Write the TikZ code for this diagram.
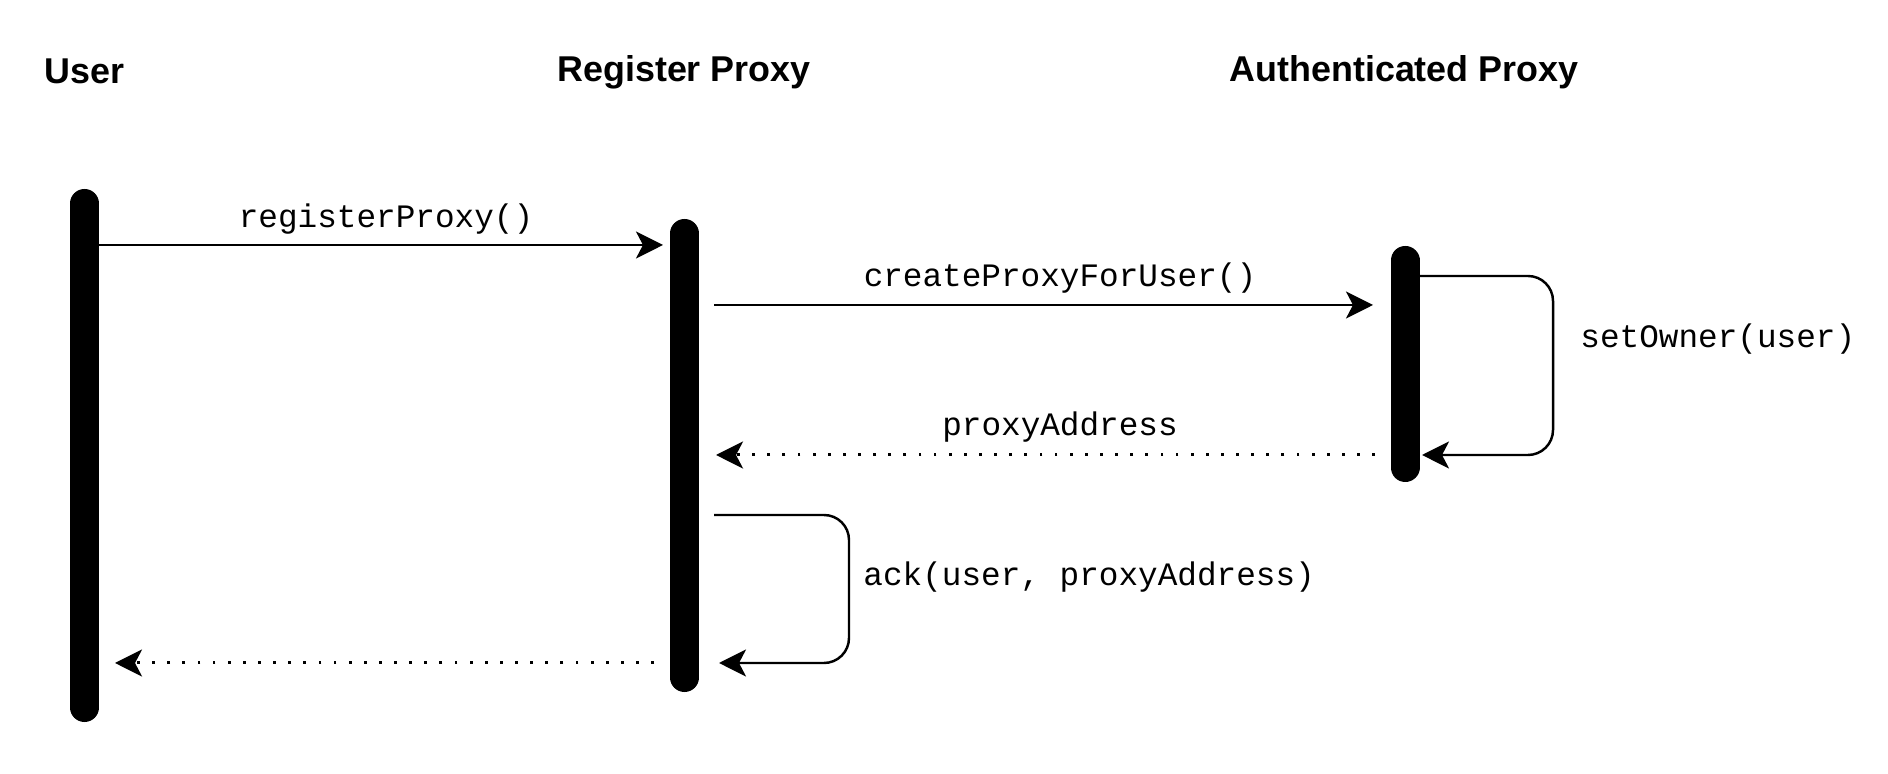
\documentclass[tikz,border=0pt]{standalone}
\usepackage{fontspec}
\setmainfont{Liberation Sans}
\setmonofont{Liberation Mono}
\usepackage{xcolor}
\usetikzlibrary{arrows.meta, positioning, calc}

\begin{document}
\begin{tikzpicture}[
  x=0.01cm, y=-0.01cm,
  actor/.style={font=\fontsize{10.2}{12}\selectfont\bfseries, inner sep=0pt},
  call/.style={font=\fontsize{9.3}{11}\selectfont\ttfamily},
  lifeline/.style={line width=0.29cm, line cap=round},
  msg/.style={line width=0.7pt, -{Stealth[length=0.27cm, width=0.27cm, inset=0.07cm]}},
  reply/.style={msg, line width=0.85pt, dash pattern=on 0.8pt off 3.5pt},
  selfcall/.style={msg, rounded corners=0.25cm}
]
\useasboundingbox (0,0) rectangle (1888,774);

% --- Participants ---
\node[actor, anchor=west] (userLbl) at (44,71) {User};
\node[actor] (regLbl) at (684,72) {Register Proxy};
\node[actor] (authLbl) at (1404,72) {Authenticated Proxy};

% --- Activation bars ---
\coordinate (userTop) at (84.5,203.5);
\coordinate (userBot) at (84.5,707.5);
\coordinate (regTop) at (684.5,233.5);
\coordinate (regBot) at (684.5,677.5);
\coordinate (authTop) at (1405,260.5);
\coordinate (authBot) at (1405,467.5);

\draw[lifeline] (userTop) -- (userBot);
\draw[lifeline] (regTop) -- (regBot);
\draw[lifeline] (authTop) -- (authBot);

% --- Message ends ---
\coordinate (rpFrom) at (99,245);
\coordinate (rpTo) at (663,245);
\coordinate (cpFrom) at (714,305);
\coordinate (cpTo) at (1373,305);
\coordinate (soFrom) at (1418,276);
\coordinate (soTo) at (1422,455);
\coordinate (paFrom) at (1375,455);
\coordinate (paTo) at (716,455);
\coordinate (ackFrom) at (714,515);
\coordinate (ackTo) at (719,663);
\coordinate (retFrom) at (654,663);
\coordinate (retTo) at (115,663);

% User -> Register Proxy
\draw[msg] (rpFrom) -- (rpTo);
\node[call] (rpLbl) at (386,219) {registerProxy()};

% Register Proxy -> Authenticated Proxy
\draw[msg] (cpFrom) -- (cpTo);
\node[call] (cpLbl) at (1060,278) {createProxyForUser()};

% self call on Authenticated Proxy
\draw[selfcall] (soFrom) -- ++(135,0) |- (soTo);
\node[call, anchor=west] (soLbl) at (1568,339) {setOwner(user)};

% reply back to Register Proxy
\draw[reply] (paFrom) -- (paTo);
\node[call] (paLbl) at (1060,427) {proxyAddress};

% self call on Register Proxy
\draw[selfcall] (ackFrom) -- ++(135,0) |- (ackTo);
\node[call, anchor=west] (ackLbl) at (851,577) {ack(user, proxyAddress)};

% reply back to User
\draw[reply] (retFrom) -- (retTo);

\end{tikzpicture}
\end{document}
